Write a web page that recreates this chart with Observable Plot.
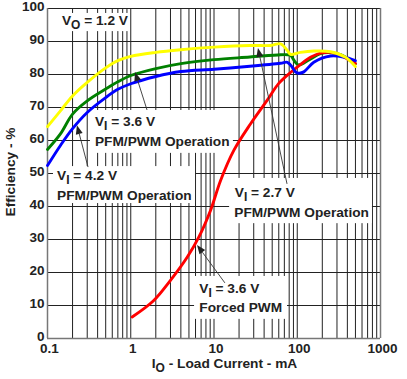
<!DOCTYPE html>
<html>
<head>
<meta charset="utf-8">
<script src="https://cdn.jsdelivr.net/npm/d3@7"></script>
<script src="https://cdn.jsdelivr.net/npm/@observablehq/plot@0.6"></script>
<style>
  html, body { margin: 0; padding: 0; background: #fff; }
  #chart { width: 407px; height: 379px; }
</style>
</head>
<body>
<div id="chart"></div>
<script>
// ---------- data (load current in mA, efficiency in %) ----------
const current27 = [0.1, 0.143, 0.2, 0.3, 0.5, 0.7, 1, 2, 4, 10, 27, 48, 63, 76, 83, 109, 158, 251, 381, 500];
const eff27     = [64.2, 69, 73.5, 77.6, 82, 84.2, 85.5, 86.7, 87.5, 88.3, 88.8, 88.8, 89.3, 87.3, 86.1, 86.7, 87.1, 86.9, 85.2, 82.4];

const current36 = [0.1, 0.143, 0.2, 0.3, 0.5, 0.7, 1, 2, 4, 10, 27, 63, 76, 83, 95, 104, 138, 190, 251, 331, 500];
const eff36     = [57.3, 62, 68, 72, 75.6, 77.8, 79.7, 81.8, 83.3, 84.5, 85.3, 86, 86, 85.8, 83.7, 82.9, 84.4, 86.3, 86.6, 86.0, 83.3];

const current42 = [0.1, 0.143, 0.2, 0.3, 0.5, 0.7, 1, 2, 4, 10, 27, 63, 76, 87, 95, 104, 120, 158, 251, 360, 500];
const eff42     = [52.4, 58.5, 63.6, 68.5, 73, 75.5, 77.2, 79.4, 80.9, 81.6, 82.5, 83.4, 83.7, 82.2, 80.8, 80.4, 80.8, 83.7, 85.6, 85.3, 84.2];

const currentPWM = [1.04, 1.89, 3.0, 4.76, 6.57, 9.08, 12, 17.3, 27.4, 43, 60, 83, 109, 144, 190, 251, 331, 500];
const effPWM     = [6.5, 11.5, 17.6, 24.6, 30.7, 38.8, 47.9, 57, 65, 72, 77.3, 80.6, 83.0, 85.2, 86.5, 86.7, 85.8, 83.3];

const xTickValues = [0.1, 1, 10, 100, 1000];
const xTickLabels = ["0.1", "1", "10", "100", "1000"];
const yTickValues = [0, 10, 20, 30, 40, 50, 60, 70, 80, 90, 100];

// annotation text (anchor = start of baseline, in data units)
const noteLines = [
  {x: 0.151, y: 94.8, text: "V_O = 1.2 V"},
  {x: 0.377, y: 64.2, text: "V_I = 3.6 V"},
  {x: 0.377, y: 58.2, text: "PFM/PWM Operation"},
  {x: 0.132, y: 47.9, text: "V_I = 4.2 V"},
  {x: 0.132, y: 41.8, text: "PFM/PWM Operation"},
  {x: 18.0,  y: 42.8, text: "V_I = 2.7 V"},
  {x: 17.8,  y: 36.8, text: "PFM/PWM Operation"},
  {x: 6.75,  y: 13.7, text: "V_I = 3.6 V"},
  {x: 6.75,  y: 8.0,  text: "Forced PWM"}
];
// white label backgrounds (data units)
const noteBoxes = [
  {x1: 0.1087, x2: 0.966, y1: 93.0, y2: 98.5},
  {x1: 0.328,  x2: 17.1,  y1: 56.1, y2: 69.1},
  {x1: 0.118,  x2: 6.0,   y1: 40.9, y2: 52.1},
  {x1: 15.4,   x2: 800,   y1: 34.8, y2: 48.5},
  {x1: 5.84,   x2: 76.4,  y1: 5.8,  y2: 18.8}
];
// arrows: tail (x1,y1) -> tip (x2,y2)
const noteArrows = [
  {x1: 1.59, y1: 69.1, x2: 1.14, y2: 80.6},
  {x1: 0.311, y1: 51.8, x2: 0.229, y2: 64.5},
  {x1: 76.4, y1: 46.7, x2: 34.2, y2: 87.9},
  {x1: 13.7, y1: 16.7, x2: 6.34, y2: 28.2}
];

const FONT = "'Liberation Sans', Arial, Helvetica, sans-serif";

// grid lines (log decades with minor lines)
const xGrid = [];
for (const d of [0.1, 1, 10, 100]) for (let k = 1; k <= 9; k++) xGrid.push(+(d * k).toPrecision(3));
xGrid.push(1000);

const series = [
  {name: "VI = 3.6 V PFM/PWM", xs: current36, ys: eff36, color: "#008000"},
  {name: "VI = 3.6 V Forced PWM", xs: currentPWM, ys: effPWM, color: "#ff0000"},
  {name: "VI = 4.2 V PFM/PWM", xs: current42, ys: eff42, color: "#0000ff"},
  {name: "VI = 2.7 V PFM/PWM", xs: current27, ys: eff27, color: "#ffff00"}
];
const rows = series.flatMap(s => s.xs.map((x, i) => ({series: s.name, x, y: s.ys[i], color: s.color})));

function addRichText(sel, str, subSize) {
  const parts = str.split(/_(\w)/);
  sel.append("tspan").text(parts[0]);
  for (let i = 1; i < parts.length; i += 2) {
    sel.append("tspan").attr("dy", 4).attr("font-size", subSize).text(parts[i]);
    sel.append("tspan").attr("dy", -4).text(parts[i + 1]);
  }
}

const boxesMark = (index, scales) => {
  const {x, y} = scales;
  const g = d3.create("svg:g").attr("fill", "white");
  for (const b of noteBoxes) {
    g.append("rect")
      .attr("x", x(b.x1)).attr("y", y(b.y2))
      .attr("width", x(b.x2) - x(b.x1)).attr("height", y(b.y1) - y(b.y2));
  }
  return g.node();
};

const notesMark = (index, scales) => {
  const {x, y} = scales;
  const g = d3.create("svg:g")
    .attr("font-family", FONT).attr("font-weight", "bold").attr("font-size", 13.7)
    .attr("fill", "#222").attr("text-anchor", "start");
  for (const n of noteLines) {
    const t = g.append("text").attr("x", x(n.x)).attr("y", y(n.y)).attr("text-anchor", "start");
    addRichText(t, n.text, 12);
  }
  return g.node();
};

const arrowsMark = (index, scales) => {
  const {x, y} = scales;
  const g = d3.create("svg:g");
  for (const a of noteArrows) {
    const x1 = x(a.x1), y1 = y(a.y1), x2 = x(a.x2), y2 = y(a.y2);
    const ang = Math.atan2(y2 - y1, x2 - x1);
    const L = 9, W = 3.5;
    const bx = x2 - L * Math.cos(ang), by = y2 - L * Math.sin(ang);
    g.append("line").attr("x1", x1).attr("y1", y1).attr("x2", bx).attr("y2", by)
      .attr("stroke", "#333").attr("stroke-width", 0.9);
    const px = -Math.sin(ang) * W, py = Math.cos(ang) * W;
    g.append("path").attr("d", `M${x2},${y2}L${bx + px},${by + py}L${bx - px},${by - py}Z`).attr("fill", "#222");
  }
  return g.node();
};

const axisLabelsMark = (index, scales, values, dims) => {
  const {width, height, marginLeft, marginRight, marginTop, marginBottom} = dims;
  const g = d3.create("svg:g")
    .attr("font-family", FONT).attr("font-weight", "bold").attr("font-size", 13.7).attr("fill", "#222");
  const cx = marginLeft + (width - marginLeft - marginRight) / 2 + 11;
  const t = g.append("text").attr("x", cx).attr("y", height - 11).attr("text-anchor", "middle");
  addRichText(t, "I_O - Load Current - mA", 12);
  const cy = marginTop + (height - marginTop - marginBottom) / 2 - 1;
  g.append("text").attr("transform", `translate(15,${cy}) rotate(-90)`)
    .attr("text-anchor", "middle").text("Efficiency - %");
  return g.node();
};

const chart = Plot.plot({
  width: 407,
  height: 379,
  marginLeft: 47,
  marginRight: 27,
  marginTop: 8,
  marginBottom: 41,
  style: {background: "white", fontFamily: FONT},
  x: {type: "log", domain: [0.1, 1000], axis: null},
  y: {domain: [0, 100], axis: null},
  marks: [
    Plot.ruleX(xGrid, {stroke: "#222", strokeWidth: 1}),
    Plot.ruleY(yTickValues, {stroke: "#222", strokeWidth: 1}),
    Plot.ruleX([0.1, 1000], {stroke: "#777", strokeWidth: 1.5}),
    Plot.ruleY([0], {stroke: "#777", strokeWidth: 1.5}),
    boxesMark,
    notesMark,
    Plot.line(rows, {x: "x", y: "y", z: "series", stroke: "color", strokeWidth: 2.9, curve: "catmull-rom"}),
    arrowsMark,
    Plot.text(yTickValues, {y: d => d, frameAnchor: "left", textAnchor: "end", dx: -3, dy: -2,
      text: d => String(d), fontFamily: FONT, fontWeight: "bold", fontSize: 13.5, fill: "#222"}),
    Plot.text(xTickValues, {x: d => d, frameAnchor: "bottom", lineAnchor: "top", dy: 5, dx: 2,
      text: (d, i) => xTickLabels[i], fontFamily: FONT, fontWeight: "bold", fontSize: 13.5, fill: "#222"}),
    axisLabelsMark
  ]
});
document.getElementById("chart").appendChild(chart);
</script>
</body>
</html>
